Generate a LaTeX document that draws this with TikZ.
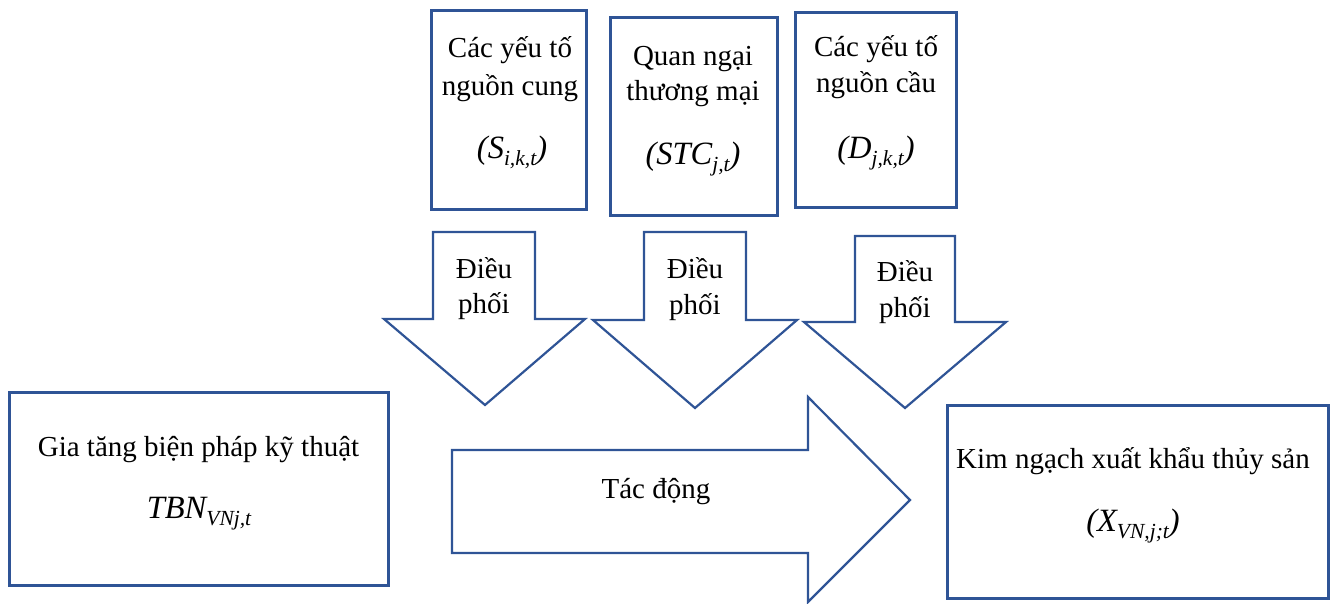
\documentclass[tikz,border=0pt]{standalone}
\usepackage{fontspec}
\setmainfont{Liberation Serif}
\definecolor{frame}{RGB}{47,84,150}
% lowered, smaller index for the italic variable names
\newcommand{\lowsub}[1]{\raisebox{-0.22em}{\fontsize{21.5}{22}\selectfont #1}}
\begin{document}
\begin{tikzpicture}[x=1pt,y=-1pt,
  box/.style={draw=frame,line width=3pt,inner sep=0pt},
  pointer/.style={draw=frame,line width=2.2pt,line join=miter,fill=white},
  txt/.style={font=\fontsize{29}{35}\selectfont,anchor=base,inner sep=0pt},
  var/.style={font=\fontsize{32.5}{38}\selectfont\itshape,anchor=base,inner sep=0pt}]
\useasboundingbox (0,0) rectangle (1333,603);

% factor boxes along the top
\node[box,minimum width=155pt,minimum height=199pt] (supply) at (508.5,109.5) {};
\node[box,minimum width=167pt,minimum height=198pt] (concern) at (693.5,116) {};
\node[box,minimum width=161pt,minimum height=195pt] (demand) at (875.5,109.5) {};

\node[txt] (supply1) at (510,57) {Các yếu tố};
\node[txt] (supply2) at (510,95) {nguồn cung};
\node[var] (supply3) at (512,158) {(S\lowsub{i,k,t})};

\node[txt] (concern1) at (693,65) {Quan ngại};
\node[txt] (concern2) at (693,100) {thương mại};
\node[var] (concern3) at (693,164) {(STC\lowsub{j,t})};

\node[txt] (demand1) at (876,56) {Các yếu tố};
\node[txt] (demand2) at (876,92) {nguồn cầu};
\node[var] (demand3) at (876,158) {(D\lowsub{j,k,t})};

% moderating block arrows
\draw[pointer] (433,232) -- (535,232) -- (535,319) -- (585,319) -- (485,405)
  -- (384,319) -- (433,319) -- cycle;
\draw[pointer] (644,232) -- (746,232) -- (746,320) -- (797,320) -- (695,408)
  -- (593,320) -- (644,320) -- cycle;
\draw[pointer] (855,236) -- (955,236) -- (955,322) -- (1006,322) -- (905,408)
  -- (804,322) -- (855,322) -- cycle;

\node[txt] (mod1a) at (484,278) {Điều};
\node[txt] (mod1b) at (484,313) {phối};
\node[txt] (mod2a) at (695,278) {Điều};
\node[txt] (mod2b) at (695,314) {phối};
\node[txt] (mod3a) at (905,281) {Điều};
\node[txt] (mod3b) at (905,317) {phối};

% cause and outcome boxes
\node[box,minimum width=379pt,minimum height=193pt] (cause) at (198.5,488.5) {};
\node[box,minimum width=381pt,minimum height=193pt] (outcome) at (1137.5,501.5) {};

\node[txt] (cause1) at (198.5,456) {Gia tăng biện pháp kỹ thuật};
\node[var] (cause2) at (199,518) {TBN\lowsub{VNj,t}};

\node[txt] (outcome1) at (1133,468) {Kim ngạch xuất khẩu thủy sản};
\node[var] (outcome2) at (1133,531) {(X\lowsub{VN,j;t})};

% impact arrow
\draw[pointer] (452,450) -- (808,450) -- (808,397) -- (910,500) -- (808,602)
  -- (808,553) -- (452,553) -- cycle;
\node[txt] (impact) at (656,498) {Tác động};
\end{tikzpicture}
\end{document}
